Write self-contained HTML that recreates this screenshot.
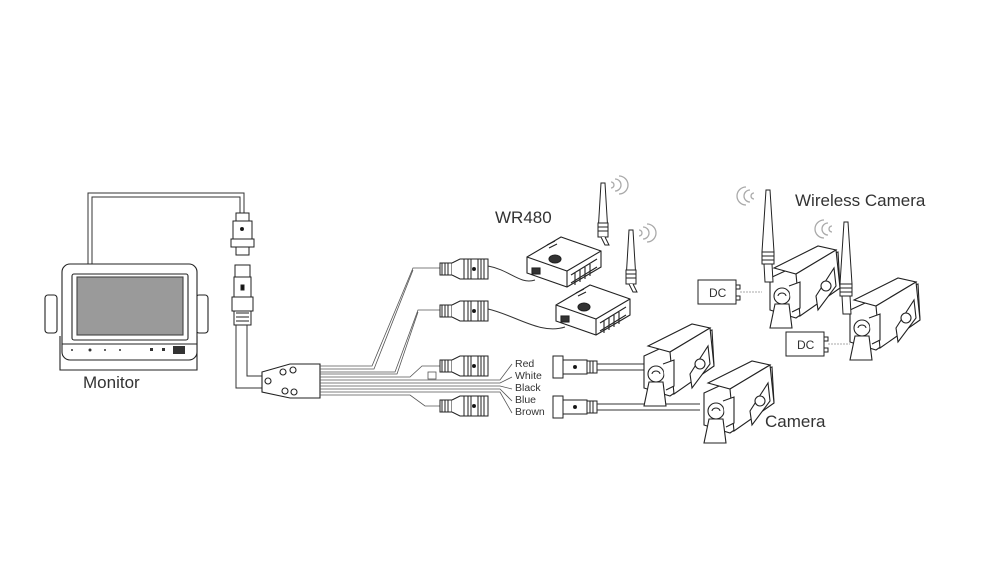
<!DOCTYPE html>
<html><head><meta charset="utf-8"><style>
html,body{margin:0;padding:0;background:#fff}
svg{display:block}
text{font-family:"Liberation Sans",sans-serif;fill:#333}
</style></head><body>
<svg width="1000" height="562" viewBox="0 0 1000 562" xmlns="http://www.w3.org/2000/svg">
<defs>
 <g id="cam" fill="#fff" stroke="#222" stroke-width="1.1">
  <path d="M14,40 L40,28 L82,14 L84,50 L40,80 L14,72 Z"/>
  <path d="M18,30 L62,8 L80,12 L40,36 Z"/>
  <path d="M40,36 L80,12 L84,50 L44,78 Z"/>
  <path d="M60,58 L78,30 L80,48 L62,72 Z"/>
  <circle cx="70" cy="48" r="5"/>
  <circle cx="26" cy="58" r="8"/>
  <path d="M22,58 a4,3 0 0 1 8,0" fill="none"/>
  <path d="M19,66 L33,66 L36,90 L14,90 Z"/>
  <path d="M33,48 L44,44 L44,70 L36,74"/>
 </g>
 <g id="conn" fill="#fff" stroke="#222" stroke-width="1">
  <rect x="0" y="-6" width="12" height="12"/>
  <path d="M2,-6 V6 M5,-6 V6 M8,-6 V6"/>
  <path d="M12,-6 L20,-10 H38 V10 H20 L12,6"/>
  <path d="M24,-10 V10 M28,-10 V10 M31,-10 V10"/>
  <circle cx="34" cy="0" r="1.5" fill="#111"/>
  <rect x="38" y="-10" width="10" height="20"/>
  <path d="M41,-10 V10 M44,-10 V10"/>
 </g>
 <g id="plug" fill="#fff" stroke="#222" stroke-width="1">
  <rect x="0" y="-11" width="10" height="22"/>
  <rect x="10" y="-7" width="24" height="14"/>
  <circle cx="22" cy="0" r="1.5" fill="#111"/>
  <rect x="34" y="-6" width="10" height="12"/>
  <path d="M37,-6 V6 M40,-6 V6"/>
 </g>
 <g id="wr" fill="#fff" stroke="#222" stroke-width="1.1">
  <path d="M0,20 L34,0 L74,14 L74,30 L40,50 L0,36 Z"/>
  <path d="M0,20 L40,34 L74,14"/>
  <path d="M40,34 V50"/>
  <path d="M44,38 L70,22 M44,46 L70,30 M48,36 V48 M53,33 V45 M58,30 V42 M63,27 V39"/>
  <ellipse cx="28" cy="22" rx="6" ry="4" fill="#333"/>
  <path d="M20,8 L28,4 M22,11 L30,7"/>
  <rect x="5" y="31" width="8" height="6" fill="#333"/>
 </g>
 <g id="ant" fill="#fff" stroke="#222" stroke-width="1">
  <path d="M-2,0 L2,0 L5,50 L-5,50 Z"/>
  <rect x="-5" y="40" width="10" height="14"/>
  <path d="M-5,44 H5 M-5,48 H5"/>
  <path d="M-2,54 L2,62 L6,62 L2,54" />
 </g>
 <g id="lant" fill="#fff" stroke="#222" stroke-width="1">
  <path d="M-2,0 L2,0 L6,62 L-6,62 Z"/>
  <rect x="-6" y="62" width="12" height="12"/>
  <path d="M-6,66 H6 M-6,70 H6"/>
  <path d="M-4,74 L4,74 L5,92 L-3,92 Z"/>
 </g>
 <g id="wave" fill="none" stroke="#aaa" stroke-width="1.3">
  <path d="M0,-3 a3,3 0 0 1 0,6"/><path d="M4,-6 a6,6 0 0 1 0,12"/><path d="M8,-9 a9,9 0 0 1 0,18"/>
 </g>
 <g id="wavel" fill="none" stroke="#aaa" stroke-width="1.3">
  <path d="M0,-3 a3,3 0 0 0 0,6"/><path d="M-4,-6 a6,6 0 0 0 0,12"/><path d="M-8,-9 a9,9 0 0 0 0,18"/>
 </g>
</defs>

<!-- monitor cable -->
<path d="M88,264 V193 H244 V213 M92,264 V197 H240 V213" fill="none" stroke="#333" stroke-width="1"/>
<!-- monitor -->
<g fill="#fff" stroke="#222" stroke-width="1.1">
 <rect x="45" y="295" width="12" height="38" rx="3"/>
 <rect x="196" y="295" width="12" height="38" rx="3"/>
 <path d="M60,336 V370 H197 V336"/>
 <rect x="62" y="264" width="135" height="96" rx="8"/>
 <rect x="72" y="274" width="116" height="66" rx="2"/>
 <rect x="77" y="277" width="106" height="58" fill="#9a9a9a" stroke="#444"/>
 <path d="M62,344 H197"/>
</g>
<g fill="#333"><circle cx="72" cy="350" r="1"/><circle cx="90" cy="350" r="1.5"/><circle cx="105" cy="350" r="1"/><circle cx="120" cy="350" r="1"/><rect x="150" y="348" width="3" height="3"/><rect x="162" y="348" width="3" height="3"/><rect x="173" y="346" width="12" height="8"/></g>
<text x="83" y="388" font-size="17">Monitor</text>

<!-- vertical connector chain -->
<g fill="#fff" stroke="#222" stroke-width="1">
 <rect x="236" y="213" width="13" height="8"/>
 <rect x="233" y="221" width="19" height="18"/>
 <rect x="231" y="239" width="23" height="8"/>
 <rect x="236" y="247" width="13" height="8"/>
 <rect x="235" y="265" width="15" height="12"/>
 <rect x="234" y="277" width="17" height="20"/>
 <rect x="232" y="297" width="21" height="14"/>
 <rect x="234" y="311" width="17" height="14"/>
 <path d="M236,313 H249 M236,317 H249 M236,321 H249"/>
 <circle cx="242" cy="229" r="1.5" fill="#111"/>
 <rect x="241" y="285" width="3" height="5" fill="#111"/>
</g>
<path d="M236,325 V388 H263 M247,325 V376 H263" fill="none" stroke="#333" stroke-width="1"/>
<!-- breakout -->
<g fill="#fff" stroke="#222" stroke-width="1.1">
 <path d="M262,372 L290,364 H320 V398 H290 L262,392 Z"/>
 <circle cx="268" cy="381" r="3"/><circle cx="283" cy="372" r="3"/><circle cx="293" cy="370" r="3"/><circle cx="285" cy="391" r="3"/><circle cx="294" cy="392" r="3"/>
</g>
<!-- wires -->
<g fill="none" stroke="#555" stroke-width="0.8">
 <path d="M320,366 H372 L413,268 H440"/>
 <path d="M320,369 H374 L413,270"/>
 <path d="M320,372 H395 L418,310 H440"/>
 <path d="M320,374 H397 L418,312"/>
 <path d="M320,377 H410 L422,366 H440"/>
 <path d="M320,380 H500 L512,364"/>
 <path d="M320,383 H500 L512,377"/>
 <path d="M320,386 H500 L512,389"/>
 <path d="M320,389 H500 L512,401"/>
 <path d="M320,392 H500 L512,413"/>
 <path d="M320,395 H410 L425,406 H440"/>
 <rect x="428" y="372" width="8" height="7" fill="#fff"/>
</g>
<use href="#conn" x="440" y="269"/>
<use href="#conn" x="440" y="311"/>
<use href="#conn" x="440" y="366"/>
<use href="#conn" x="440" y="406"/>
<g font-size="10.5"><text x="515" y="367">Red</text><text x="515" y="379">White</text><text x="515" y="391">Black</text><text x="515" y="403">Blue</text><text x="515" y="415">Brown</text></g>

<!-- wr480 cables -->
<path d="M488,266 C510,270 520,285 535,280 M488,309 C515,315 540,335 565,327" fill="none" stroke="#333" stroke-width="1"/>
<use href="#ant" x="603" y="183"/>
<use href="#wave" x="611" y="185"/>
<use href="#wr" x="527" y="237"/>
<use href="#ant" x="631" y="230"/>
<use href="#wave" x="639" y="233"/>
<use href="#wr" x="556" y="285"/>
<text x="495" y="223" font-size="17">WR480</text>

<!-- wired cameras -->
<use href="#plug" x="553" y="367"/>
<use href="#plug" x="553" y="407"/>
<path d="M597,364 H644 M597,370 H644 M597,404 H700 M597,410 H700" fill="none" stroke="#333" stroke-width="1"/>
<use href="#cam" x="630" y="316"/>
<use href="#cam" x="690" y="353"/>
<text x="765" y="427" font-size="17">Camera</text>

<!-- wireless cameras -->
<use href="#wavel" x="754" y="196"/>
<use href="#cam" x="756" y="238"/>
<use href="#lant" x="768" y="190"/>
<use href="#wavel" x="832" y="229"/>
<use href="#cam" x="836" y="270"/>
<use href="#lant" x="846" y="222"/>
<g fill="#fff" stroke="#222" stroke-width="1">
 <rect x="698" y="280" width="38" height="24"/><rect x="736" y="285" width="4" height="4"/><rect x="736" y="296" width="4" height="4"/>
 <rect x="786" y="332" width="38" height="24"/><rect x="824" y="337" width="4" height="4"/><rect x="824" y="348" width="4" height="4"/>
</g>
<path d="M740,292 H762 M828,344 H850" stroke="#aaa" stroke-dasharray="2,1" fill="none"/>
<text x="709" y="297" font-size="12">DC</text>
<text x="797" y="349" font-size="12">DC</text>
<text x="795" y="206" font-size="17">Wireless Camera</text>
</svg>
</body></html>
